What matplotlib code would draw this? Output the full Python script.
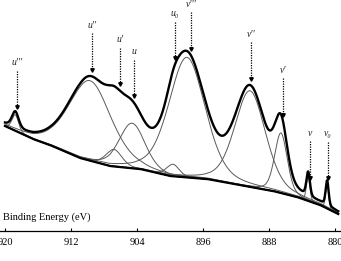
import numpy as np
import matplotlib
matplotlib.use('Agg')
import matplotlib.pyplot as plt

# Shirley-type background
bg_energy = [920.0, 916.6, 914.55, 910.9, 907.3, 903.6, 900.0, 895.5, 891.5, 887.5, 884.6, 881.8, 879.6]
bg_counts = [105, 92, 86, 73, 65, 62, 55, 52, 46, 40, 34, 26, 17]

# fitted Ce 3d components
peak_names = ["u'''", "u''", "u'", 'u', 'u\u2080', "v'''", "v''", "v'", 'v', 'v\u2080']
peak_center = [918.75, 909.7, 906.8, 904.6, 899.65, 897.95, 890.3, 886.55, 883.25, 880.95]
peak_height = [16, 80, 17, 45, 12, 120, 96, 60, 24, 25]
peak_fwhm = [0.95, 6.1, 2.3, 3.7, 1.8, 5.2, 4.4, 1.8, 0.5, 0.42]

# where the dotted arrows point
label_energy = [918.55, 909.45, 906.05, 904.35, 899.4, 897.45, 890.2, 886.3, 883.0, 880.85]

xticks = [920, 912, 904, 896, 888, 880]


def gl(e, c, h, w, eta=0.3):
    g = np.exp(-4 * np.log(2) * (e - c) ** 2 / w ** 2)
    l = 1 / (1 + 4 * (e - c) ** 2 / w ** 2)
    return h * ((1 - eta) * g + eta * l)


energy = np.linspace(bg_energy[0], bg_energy[-1], 1500)
bg = np.interp(energy, bg_energy[::-1], bg_counts[::-1])
comps = [gl(energy, c, h, w) for c, h, w in zip(peak_center, peak_height, peak_fwhm)]
envelope = bg + np.sum(comps, axis=0)

fig = plt.figure(figsize=(3.41, 2.61), dpi=100)
ax = fig.add_axes([0, 30 / 261, 1, 231 / 261])

for comp in comps:
    ax.plot(energy, bg + comp, color='#5a5a5a', lw=0.7)
ax.plot(energy, bg, color='black', lw=1.6)
ax.plot(energy, envelope, color='black', lw=1.7)

serif = ['Liberation Serif', 'DejaVu Serif']
for name, le in zip(peak_names, label_energy):
    tip = np.interp(le, energy[::-1], envelope[::-1]) + 5
    top = min(tip + 38, 219)
    ax.plot([le, le], [top, tip + 2], color='black', lw=0.9, ls=(0, (1, 1)))
    ax.plot(le, tip + 1.5, marker='v', color='black', ms=2.5)
    ax.text(le, top + 8, name, ha='center', va='center', fontsize=7,
            style='italic', family=serif, color='#222222')

ax.set_xlim(920.6, 879.27)
ax.set_ylim(0, 231)
for s in ['left', 'right', 'top']:
    ax.spines[s].set_visible(False)
ax.spines['bottom'].set_linewidth(0.9)
ax.set_yticks([])
ax.set_xticks(xticks)
ax.set_xticklabels([str(t) for t in xticks], family=serif, fontsize=7.5)
ax.tick_params(axis='x', direction='in', length=2.5, width=0.8, pad=5)
ax.text(0.008, 0.06, 'Binding Energy (eV)', transform=ax.transAxes,
        family=serif, fontsize=7.5, va='center', ha='left')

fig.savefig('out.png', dpi=100)
